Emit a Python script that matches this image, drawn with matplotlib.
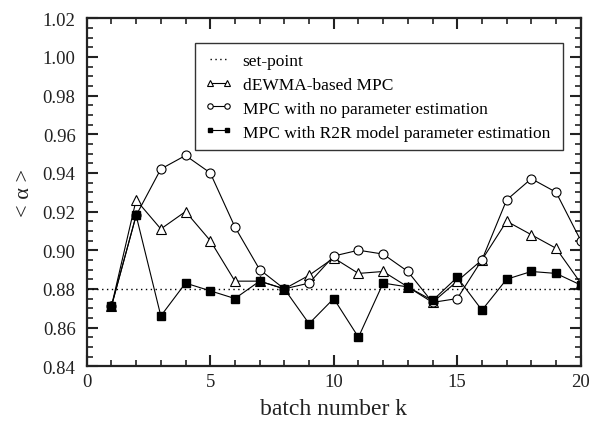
import matplotlib
matplotlib.use("Agg")
import matplotlib.pyplot as plt
from matplotlib.ticker import MultipleLocator

plt.rcParams['font.family'] = ['Liberation Serif', 'DejaVu Serif']

batch = list(range(1, 21))
setpoint = 0.88
dewma = [0.871, 0.926, 0.911, 0.920, 0.905, 0.884, 0.884, 0.880, 0.887, 0.896,
         0.888, 0.889, 0.881, 0.873, 0.884, 0.895, 0.915, 0.908, 0.901, 0.883]
no_est = [0.871, 0.918, 0.942, 0.949, 0.940, 0.912, 0.890, 0.880, 0.883, 0.897,
          0.900, 0.898, 0.889, 0.873, 0.875, 0.895, 0.926, 0.937, 0.930, 0.905]
r2r_est = [0.871, 0.918, 0.866, 0.883, 0.879, 0.875, 0.884, 0.880, 0.862, 0.875,
           0.855, 0.883, 0.881, 0.874, 0.886, 0.869, 0.885, 0.889, 0.888, 0.882]

fig = plt.figure(figsize=(5.92, 4.27), dpi=100)
ax = fig.add_axes([0.1465, 0.14, 0.8345, 0.815])

ax.axhline(setpoint, color='black', linestyle=(0, (1, 2.5)), linewidth=1.0, label='set-point')
ax.plot(batch, dewma, color='black', linewidth=0.8, marker='^', markersize=6.5,
        markerfacecolor='white', markeredgecolor='black', markeredgewidth=0.8,
        label='dEWMA-based MPC')
ax.plot(batch, no_est, color='black', linewidth=0.8, marker='o', markersize=6.5,
        markerfacecolor='white', markeredgecolor='black', markeredgewidth=0.8,
        label='MPC with no parameter estimation')
ax.plot(batch, r2r_est, color='black', linewidth=0.8, marker='s', markersize=5.5,
        markerfacecolor='black', markeredgecolor='black',
        label='MPC with R2R model parameter estimation')

ax.set_xlim(0, 20)
ax.set_ylim(0.84, 1.02)
ax.xaxis.set_major_locator(MultipleLocator(5))
ax.xaxis.set_minor_locator(MultipleLocator(1))
ax.yaxis.set_major_locator(MultipleLocator(0.02))
ax.yaxis.set_minor_locator(MultipleLocator(0.005))
ax.yaxis.set_major_formatter(plt.FormatStrFormatter('%.2f'))

ax.tick_params(which='both', direction='in', top=True, right=True, labelsize=13.5,
               width=1.5, colors='#222222')
ax.tick_params(which='major', length=8, pad=5)
ax.tick_params(axis='y', which='major', pad=8)
ax.tick_params(which='minor', length=4, width=1.2)
for s in ax.spines.values():
    s.set_linewidth(1.6)
    s.set_color('#222222')

ax.set_xlabel('batch number k', fontsize=17, color='#222222', labelpad=6)
ax.set_ylabel('< α >', fontsize=16, color='#222222', labelpad=6)

leg = ax.legend(loc='upper left', bbox_to_anchor=(0.219, 0.615, 0.745, 0.314),
                mode='expand', fontsize=12.5, frameon=True, fancybox=False, numpoints=2,
                handlelength=1.6, handletextpad=0.6, borderpad=0.55, labelspacing=0.45,
                markerscale=0.6, borderaxespad=0)
leg.get_frame().set_edgecolor('black')
leg.get_frame().set_linewidth(1.0)

fig.savefig('out.png', dpi=100)
